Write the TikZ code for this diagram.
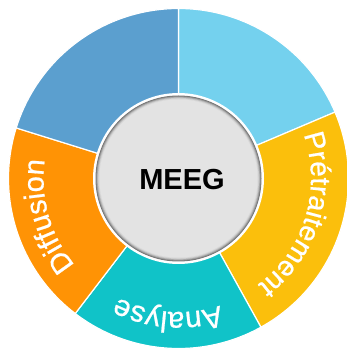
\documentclass[tikz,border=0pt]{standalone}
\usepackage{fontspec}
\setmainfont{Liberation Sans}
\newfontfamily\labelfont[FakeBold=0.7]{Liberation Sans}
\usetikzlibrary{decorations.text}
\definecolor{segA}{HTML}{74D1EE}
\definecolor{segB}{HTML}{FBBF0C}
\definecolor{segC}{HTML}{10C3C8}
\definecolor{segD}{HTML}{FF9305}
\definecolor{segE}{HTML}{5B9FCF}
\newcommand{\Rout}{170}
\newcommand{\segm}[3]{\fill[#1,draw=white,line width=1.2pt] (0,0) -- (#2:\Rout) arc[start angle=#2,end angle=#3,radius=\Rout] -- cycle;}
% #1 mid angle, #2 baseline radius, #3 size, #4 text
\newcommand{\curvelabel}[4]{\path[decorate,decoration={text along path,text align=center,text={|\labelfont\fontsize{#3}{#3}\selectfont\color{white}|#4}}] (#1+70:#2) arc[start angle=#1+70,end angle=#1-70,radius=#2];}
\begin{document}
\begin{tikzpicture}[x=1pt,y=1pt]
\useasboundingbox (0,0) rectangle (347,349);
\clip (0,0) rectangle (347,349);
\begin{scope}[shift={(178.5,170.5)}]
\segm{segA}{23}{90}
\segm{segB}{-61}{23}
\segm{segC}{-127.4}{-61}
\segm{segD}{162.7}{232.6}
\segm{segE}{90}{162.7}
\curvelabel{-17}{132.5}{28}{Prétraitement}
\curvelabel{-94.5}{133.5}{29.5}{Analyse}
\curvelabel{196}{135}{29}{Diffusion}
\fill[white] (0,0) circle[radius=85.5];
\fill[black!55] (0,0) circle[radius=83];
\fill[black!42] (0,0) circle[radius=82.2];
\fill[black!30] (0,0) circle[radius=81.4];
\fill[black!20] (0,0) circle[radius=80.6];
\fill[black!14] (0,0) circle[radius=79.8];
\fill[black!11] (0,0) circle[radius=79];
\node[font=\bfseries\fontsize{29}{29}\selectfont,text=black] (hub) at (3.5,-1) {MEEG};
\end{scope}
\end{tikzpicture}
\end{document}
